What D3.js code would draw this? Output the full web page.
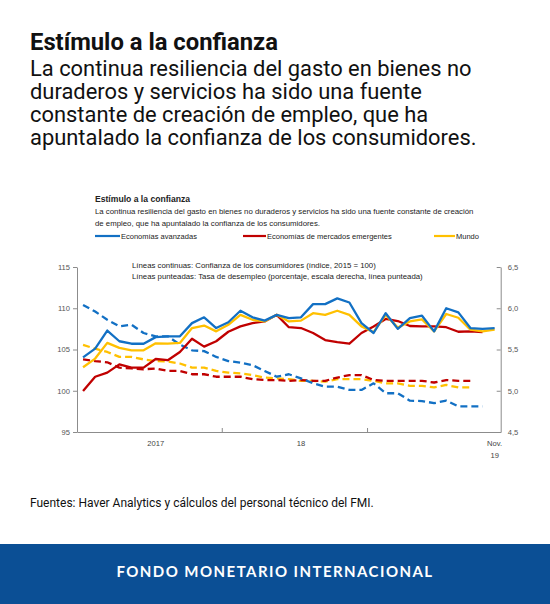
<!DOCTYPE html>
<html><head><meta charset="utf-8">
<script src="https://cdn.jsdelivr.net/npm/d3@7"></script>
<style>
html,body{margin:0;padding:0;background:#fff;}
svg{display:block;}
</style></head>
<body>
<svg id="c" width="550" height="604"></svg>
<script>
// ---- data ----
const months = ["2017-01","2017-02","2017-03","2017-04","2017-05","2017-06","2017-07","2017-08","2017-09","2017-10","2017-11","2017-12",
"2018-01","2018-02","2018-03","2018-04","2018-05","2018-06","2018-07","2018-08","2018-09","2018-10","2018-11","2018-12",
"2019-01","2019-02","2019-03","2019-04","2019-05","2019-06","2019-07","2019-08","2019-09","2019-10","2019-11"];
// consumer confidence (index, 2015 = 100), left axis
const confAdv = [104.05,105.1,107.3,106.0,105.7,105.7,106.5,106.6,106.6,108.2,108.9,107.6,108.3,109.7,108.9,108.5,109.2,108.8,108.9,110.5,110.5,111.2,110.7,108.2,107.0,109.4,107.5,108.8,109.1,107.2,110.0,109.5,107.6,107.5,107.6];
const confEme = [99.97,101.7,102.2,103.2,102.8,102.8,103.85,103.7,104.7,106.3,105.35,106.0,107.15,107.8,108.2,108.4,109.2,107.7,107.6,107.0,106.15,105.9,105.7,107.0,107.8,108.7,108.45,107.85,107.8,107.8,107.7,107.15,107.2,107.1];
const confWld = [102.85,103.9,105.8,105.2,104.9,104.9,105.75,105.7,105.8,107.6,107.9,107.2,108.0,109.2,108.6,108.4,109.2,108.4,108.5,109.4,109.2,109.7,109.2,107.8,107.1,109.2,107.65,108.4,108.65,107.2,109.3,108.85,107.4,107.2,107.4];
// unemployment rate (percent), right axis
const unAdv = [6.04,5.96,5.86,5.78,5.80,5.70,5.66,5.66,5.56,5.49,5.48,5.41,5.36,5.34,5.31,5.24,5.17,5.20,5.15,5.09,5.05,5.05,5.01,5.01,5.09,4.97,4.97,4.88,4.875,4.85,4.88,4.81,4.81,4.81];
const unEme = [5.38,5.36,5.345,5.28,5.27,5.26,5.27,5.24,5.24,5.20,5.20,5.17,5.17,5.17,5.14,5.13,5.13,5.12,5.13,5.12,5.12,5.16,5.19,5.19,5.13,5.12,5.12,5.12,5.12,5.10,5.13,5.12,5.12];
const unWld = [5.555,5.51,5.47,5.41,5.41,5.38,5.36,5.355,5.33,5.28,5.28,5.24,5.22,5.21,5.19,5.16,5.15,5.14,5.12,5.12,5.11,5.14,5.14,5.14,5.12,5.09,5.09,5.06,5.06,5.04,5.07,5.04,5.04];
const leftTicks = [95,100,105,110,115];
const rightTicks = [4.5,5.0,5.5,6.0,6.5];
const xTickMonths = ["2018-01","2019-01"];
const xLabels = [{m:"2017-07",t:["2017"]},{m:"2018-07",t:["18"]},{m:"2019-11",t:["Nov.","19"]}];
const seriesNames = ["Economías avanzadas","Economías de mercados emergentes","Mundo"];
const colors = ["#1270c4","#c00000","#ffc000"];

// ---- layout ----
const svg = d3.select("#c");
const L = 77, R = 500.7, T = 267, B = 432;
const x = d3.scaleBand().domain(months).range([L, R]).paddingInner(0).paddingOuter(0);
const xc = m => x(m) + x.bandwidth()/2;
const yL = d3.scaleLinear().domain([95,115]).range([B,T]);
const yR = d3.scaleLinear().domain([4.5,6.5]).range([B,T]);

// header
const hdr = svg.append("g").attr("font-family","Roboto, sans-serif").attr("fill","#111");
hdr.append("text").attr("x",30).attr("y",49.8).attr("font-size",23.8).attr("font-weight","bold").text("Estímulo a la confianza");
const sub = ["La continua resiliencia del gasto en bienes no","duraderos y servicios ha sido una fuente","constante de creación de empleo, que ha","apuntalado la confianza de los consumidores."];
hdr.selectAll("text.sub").data(sub).join("text").attr("class","sub")
  .attr("x",30).attr("y",(d,i)=>76+i*23).attr("font-size",21.9).text(d=>d);

// inner chart header
const inner = svg.append("g").attr("font-family","'Liberation Sans', Arial, sans-serif").attr("fill","#222");
inner.append("text").attr("x",95).attr("y",202).attr("font-size",8.6).attr("font-weight","bold").text("Estímulo a la confianza");
const isub = ["La continua resiliencia del gasto en bienes no duraderos y servicios ha sido una fuente constante de creación","de empleo, que ha apuntalado la confianza de los consumidores."];
inner.selectAll("text.isub").data(isub).join("text").attr("class","isub")
  .attr("x",95).attr("y",(d,i)=>214+i*11.5).attr("font-size",7.8).text(d=>d);

// legend
const legX = [95,243,434];
const legW = [25,23,21];
const leg = svg.append("g").attr("font-family","'Liberation Sans', Arial, sans-serif").attr("font-size",7.5).attr("fill","#222");
seriesNames.forEach((n,i)=>{
  leg.append("line").attr("x1",legX[i]).attr("x2",legX[i]+legW[i]).attr("y1",236).attr("y2",236)
    .attr("stroke",colors[i]).attr("stroke-width",2.2);
  leg.append("text").attr("x",legX[i]+legW[i]+1).attr("y",238.6).text(n);
});

// annotation
const ann = ["Líneas continuas: Confianza de los consumidores (índice, 2015 = 100)","Líneas punteadas: Tasa de desempleo (porcentaje, escala derecha, línea punteada)"];
svg.append("g").attr("font-family","'Liberation Sans', Arial, sans-serif").attr("font-size",7.8).attr("fill","#222")
  .selectAll("text").data(ann).join("text").attr("x",132).attr("y",(d,i)=>268+i*11).text(d=>d);

// axes
const axisColor = "#8c8c8c";
const gL = svg.append("g").attr("transform",`translate(${L},0)`)
  .call(d3.axisLeft(yL).tickValues(leftTicks).tickSizeInner(4).tickSizeOuter(0).tickPadding(3));
const gR = svg.append("g").attr("transform",`translate(${R},0)`)
  .call(d3.axisRight(yR).tickValues(rightTicks).tickSizeInner(-4).tickSizeOuter(0).tickPadding(7)
    .tickFormat(d=>d3.format(".1f")(d).replace(".",",")));
const gB = svg.append("g").attr("transform",`translate(0,${B})`)
  .call(d3.axisBottom(x).tickValues(xTickMonths).tickSizeInner(-4).tickSizeOuter(0).tickFormat(""));
gB.selectAll(".tick").attr("transform",d=>`translate(${x(d)},0)`);
[gL,gR,gB].forEach(g=>{
  g.selectAll("path.domain").attr("stroke",axisColor).attr("stroke-width",1);
  g.selectAll(".tick line").attr("stroke",axisColor);
  g.selectAll(".tick text").attr("fill","#555").attr("font-size",7.6).attr("font-family","'Liberation Sans', Arial, sans-serif");
});
const xl = svg.append("g").attr("font-family","'Liberation Sans', Arial, sans-serif").attr("font-size",7.6).attr("fill","#444");
xLabels.forEach(d=>{
  const t = xl.append("text").attr("x",xc(d.m)).attr("y",446).attr("text-anchor","middle");
  d.t.forEach((s,i)=>t.append("tspan").attr("x",xc(d.m)).attr("dy",i===0?0:11.5).text(s));
});

// lines
const lineL = d3.line().x((d,i)=>xc(months[i])).y(d=>yL(d));
const lineR = d3.line().x((d,i)=>xc(months[i])).y(d=>yR(d));
const plot = svg.append("g").attr("fill","none").attr("stroke-linejoin","round");
[unWld,unEme,unAdv].forEach((s,k)=>{
  const ci = [2,1,0][k];
  plot.append("path").attr("d",lineR(s)).attr("stroke",colors[ci]).attr("stroke-width",2.3).attr("stroke-dasharray","7,4");
});
[confEme,confWld,confAdv].forEach((s,k)=>{
  const ci = [1,2,0][k];
  plot.append("path").attr("d",lineL(s)).attr("stroke",colors[ci]).attr("stroke-width",2.3);
});

// footer
svg.append("text").attr("x",30).attr("y",507).attr("font-family","Roboto, sans-serif").attr("font-size",12).attr("fill","#111")
  .text("Fuentes: Haver Analytics y cálculos del personal técnico del FMI.");
svg.append("rect").attr("x",0).attr("y",544).attr("width",550).attr("height",60).attr("fill","#0b4f95");
svg.append("text").attr("x",275).attr("y",577).attr("text-anchor","middle").attr("font-family","Lato, 'Open Sans', sans-serif")
  .attr("font-weight","bold").attr("font-size",15).attr("letter-spacing",1.45).attr("fill","#fff").text("FONDO MONETARIO INTERNACIONAL");
</script>
</body></html>
